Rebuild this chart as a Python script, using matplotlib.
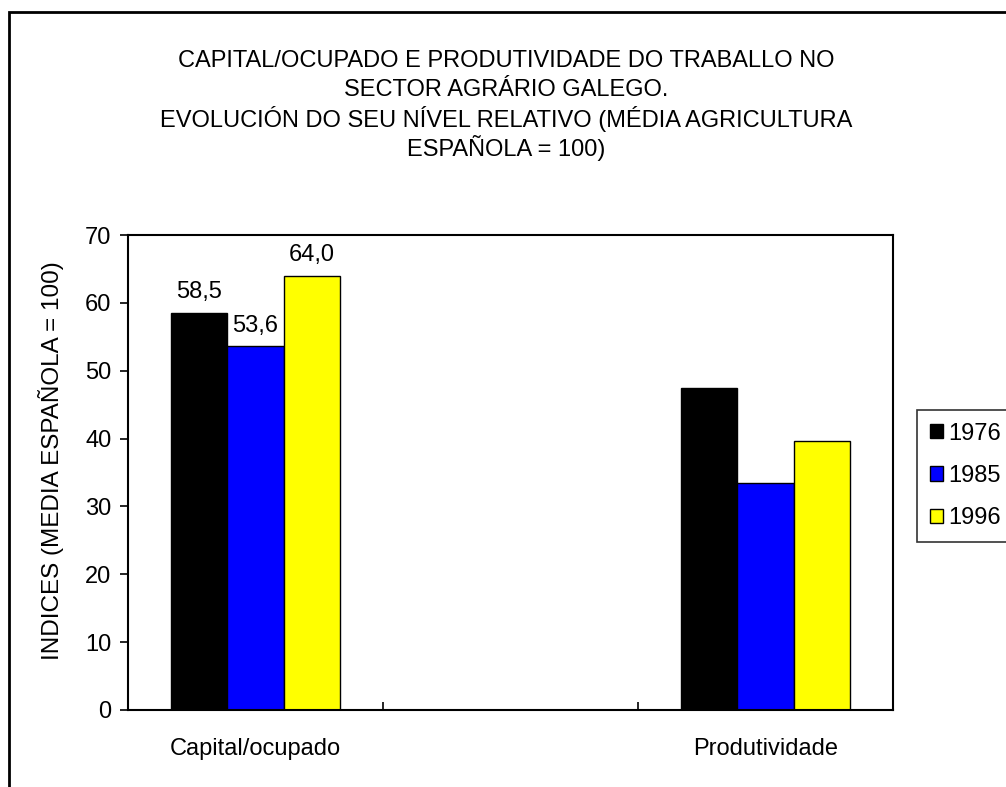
import matplotlib
matplotlib.use("Agg")
import matplotlib.pyplot as plt
from matplotlib.patches import Rectangle
import numpy as np

plt.rcParams['font.family'] = ['Liberation Sans', 'DejaVu Sans']

# data
categories = ['Capital/ocupado', '', 'Produtividade']
years = ['1976', '1985', '1996']
values = {
    '1976': [58.5, 0, 47.4],
    '1985': [53.6, 0, 33.5],
    '1996': [64.0, 0, 39.7],
}
labelled = [0]  # only the first group carries value labels
colors = ['#000000', '#0000ff', '#ffff00']

title_lines = ['CAPITAL/OCUPADO E PRODUTIVIDADE DO TRABALLO NO',
               'SECTOR AGRÁRIO GALEGO.',
               'EVOLUCIÓN DO SEU NÍVEL RELATIVO (MÉDIA AGRICULTURA',
               'ESPAÑOLA = 100)']
ylabel = 'INDICES (MEDIA ESPAÑOLA = 100)'

fig = plt.figure(figsize=(10.06, 7.87), dpi=100)
ax = fig.add_axes([128 / 1006, 77 / 787, 765 / 1006, 475 / 787])

x = np.arange(len(categories))
w = 0.22
for i, yr in enumerate(years):
    pos = [p for p in x if categories[p]]
    vals = [values[yr][p] for p in pos]
    ax.bar(np.array(pos) + (i - 1) * w, vals, w, color=colors[i],
           edgecolor='black', linewidth=1.0, label=yr)
    for j, p in enumerate(pos):
        if p in labelled:
            ax.annotate(f'{vals[j]:.1f}'.replace('.', ','),
                        (p + (i - 1) * w, vals[j]), xytext=(0, 7),
                        textcoords='offset points', ha='center', va='bottom',
                        fontsize=17)

ax.set_xlim(-0.5, 2.5)
ax.set_ylim(0, 70)
ax.set_yticks(np.arange(0, 71, 10))
ax.tick_params(axis='y', direction='out', length=6, width=1.2, labelsize=17, pad=6)
ax.set_xticks([0.5, 1.5])
ax.set_xticklabels(['', ''])
ax.tick_params(axis='x', which='major', direction='in', length=6, width=1.2)
ax.set_xticks(x, minor=True)
ax.set_xticklabels(categories, minor=True)
ax.tick_params(axis='x', which='minor', length=0, labelsize=17, pad=20)
for s in ax.spines.values():
    s.set_linewidth(1.5)

ax.set_ylabel(ylabel, fontsize=17.5)
ax.yaxis.set_label_coords(-0.084, 0.526)

# title, one line at a time so the spacing stays even
for k, line in enumerate(title_lines):
    fig.text(0.503, (787 - 61 - 29 * k) / 787, line, ha='center', va='center',
             fontsize=17)

leg = fig.legend(loc='upper left', bbox_to_anchor=(917 / 1006, (787 - 410) / 787),
                 fontsize=17, frameon=True, fancybox=False, edgecolor='black',
                 handlelength=0.55, handleheight=0.55, handletextpad=0.25,
                 labelspacing=0.86, borderpad=0.53, borderaxespad=0)
leg.get_frame().set_linewidth(1.2)

# outer chart border (right and bottom fall off the picture)
fig.patches.append(Rectangle((9 / 1006, -0.1), 1.2, (787 - 12) / 787 + 0.1,
                             transform=fig.transFigure, fill=False,
                             edgecolor='black', linewidth=2))

fig.savefig('out.png', dpi=100)
